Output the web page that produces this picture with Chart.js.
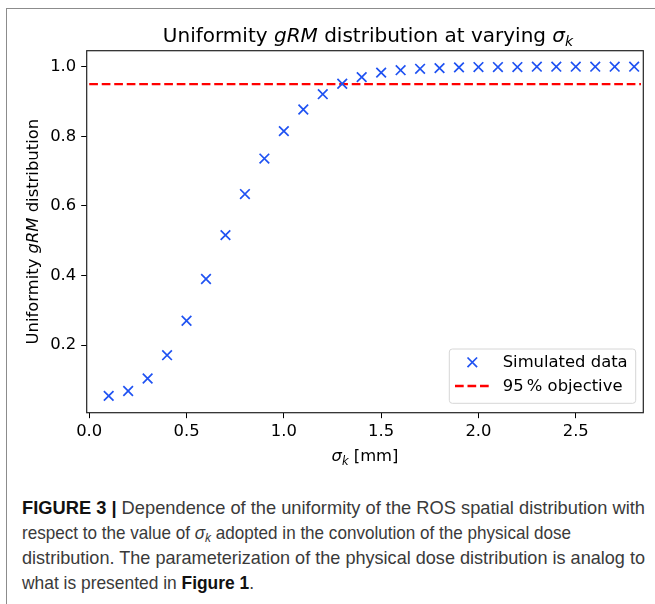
<!DOCTYPE html>
<html>
<head>
<meta charset="utf-8">
<script src="https://cdn.jsdelivr.net/npm/chart.js@4"></script>
<style>
  html, body { margin: 0; padding: 0; background: #fff; }
  body { width: 655px; height: 604px; position: relative; overflow: hidden; }
  #frame { position: absolute; left: 6px; top: 8px; width: 720px; height: 640px; border: 1.5px solid #8c8c8c; box-sizing: border-box; }
  #chartBox { position: absolute; left: 0; top: 0; width: 655px; height: 470px; }
  #caption { position: absolute; left: 22px; top: 495px; font-family: "Liberation Sans", "Roboto", sans-serif; font-size: 19px; line-height: 25px; color: #3a3a3a; }
  #caption div { white-space: nowrap; transform-origin: 0 0; height: 25px; width: max-content; }
  #caption b { color: #111; }
  #caption sub { font-size: 70%; line-height: 0; vertical-align: -0.25em; }
</style>
</head>
<body>
<div id="frame"></div>
<div id="chartBox"><canvas id="uniformityChart" width="655" height="470"></canvas></div>
<div id="caption">
  <div data-w="623"><b>FIGURE 3 |</b> Dependence of the uniformity of the ROS spatial distribution with</div>
  <div data-w="549">respect to the value of <i>&sigma;<sub>k</sub></i> adopted in the convolution of the physical dose</div>
  <div data-w="623">distribution. The parameterization of the physical dose distribution is analog to</div>
  <div data-w="232">what is presented in <b>Figure 1</b>.</div>
</div>
<script>
// sigma_k values [mm] and simulated uniformity
const sigmaK = [0.1, 0.2, 0.3, 0.4, 0.5, 0.6, 0.7, 0.8, 0.9, 1.0,
                1.1, 1.2, 1.3, 1.4, 1.5, 1.6, 1.7, 1.8, 1.9, 2.0,
                2.1, 2.2, 2.3, 2.4, 2.5, 2.6, 2.7, 2.8];
const uniformity = [0.054, 0.068, 0.104, 0.171, 0.270, 0.390, 0.516, 0.634, 0.736, 0.815,
                    0.877, 0.921, 0.951, 0.970, 0.983, 0.990, 0.994, 0.996, 0.998, 0.999,
                    0.999, 0.999, 1.000, 1.000, 1.000, 1.000, 1.000, 1.000];
const objectiveX = [0, 2.835];
const objectiveY = [0.95, 0.95];
const seriesLabels = ['Simulated data', '95\u2009% objective'];
const xTicks = [0.0, 0.5, 1.0, 1.5, 2.0, 2.5];
const yTicks = [0.2, 0.4, 0.6, 0.8, 1.0];

const blue = '#1f52f2';
const red = '#ff0000';
const fontFam = "'DejaVu Sans', sans-serif";
const fs = 16.4;

// squeeze caption lines to the widths of the original (condensed font)
document.querySelectorAll('#caption div').forEach(function(d) {
    var w = d.getBoundingClientRect().width;
    d.style.transform = 'scaleX(' + (parseFloat(d.dataset.w) / w) + ')';
});

// draw text pieces with italic / subscript parts
function drawRuns(ctx, runs, x, y, size) {
    var total = 0;
    runs.forEach(function(r) {
        var s = r.sub ? size * 0.7 : size;
        ctx.font = (r.it ? 'italic ' : '') + s + 'px ' + fontFam;
        r.w = ctx.measureText(r.t).width;
        total += r.w;
    });
    var cx = x - total / 2;
    ctx.textAlign = 'left';
    ctx.textBaseline = 'alphabetic';
    runs.forEach(function(r) {
        var s = r.sub ? size * 0.7 : size;
        ctx.font = (r.it ? 'italic ' : '') + s + 'px ' + fontFam;
        ctx.fillText(r.t, cx, y + (r.sub ? size * 0.22 : 0));
        cx += r.w;
    });
}

const extrasPlugin = {
    id: 'extras',
    afterDraw(chart) {
        var ctx = chart.ctx;
        var a = chart.chartArea;
        ctx.save();
        // spines
        ctx.strokeStyle = '#222';
        ctx.lineWidth = 1.2;
        ctx.strokeRect(a.left, a.top, a.right - a.left, a.bottom - a.top);
        ctx.fillStyle = '#000';
        // title
        drawRuns(ctx, [{t: 'Uniformity '}, {t: 'gRM', it: true}, {t: ' distribution at varying '},
                       {t: '\u03c3', it: true}, {t: 'k', it: true, sub: true}],
                 (a.left + a.right) / 2 + 3, 42, 20);
        // x axis title
        drawRuns(ctx, [{t: '\u03c3', it: true}, {t: 'k', it: true, sub: true}, {t: ' [mm]'}],
                 (a.left + a.right) / 2, 461, fs);
        // y axis title
        ctx.save();
        ctx.translate(38, (a.top + a.bottom) / 2);
        ctx.rotate(-Math.PI / 2);
        drawRuns(ctx, [{t: 'Uniformity '}, {t: 'gRM', it: true}, {t: ' distribution'}], 0, 0, fs);
        ctx.restore();

        // legend
        var lx = 449.3, ly = 349, lw = 186.4, lh = 54.3;
        ctx.beginPath();
        ctx.roundRect(lx, ly, lw, lh, 3);
        ctx.fillStyle = 'rgba(255,255,255,0.8)';
        ctx.fill();
        ctx.strokeStyle = '#d6d6d6';
        ctx.lineWidth = 1;
        ctx.stroke();
        var ds = chart.data.datasets;
        // marker entry
        ctx.strokeStyle = ds[0].borderColor;
        ctx.lineWidth = ds[0].pointBorderWidth;
        ctx.beginPath();
        ctx.moveTo(472.3 - 4.8, 362.3 - 4.8); ctx.lineTo(472.3 + 4.8, 362.3 + 4.8);
        ctx.moveTo(472.3 + 4.8, 362.3 - 4.8); ctx.lineTo(472.3 - 4.8, 362.3 + 4.8);
        ctx.stroke();
        // dashed entry
        ctx.strokeStyle = ds[1].borderColor;
        ctx.lineWidth = ds[1].borderWidth;
        ctx.setLineDash(ds[1].borderDash);
        ctx.beginPath();
        ctx.moveTo(455, 386); ctx.lineTo(489.5, 386);
        ctx.stroke();
        ctx.setLineDash([]);
        ctx.fillStyle = '#000';
        ctx.font = fs + 'px ' + fontFam;
        ctx.textAlign = 'left';
        ctx.textBaseline = 'middle';
        ctx.fillText(ds[0].label, 502.7, 363);
        ctx.fillText(ds[1].label, 502.7, 387);
        ctx.restore();
    }
};

var ctx = document.getElementById('uniformityChart').getContext('2d');
var uniformityChart = new Chart(ctx, {
    type: 'scatter',
    data: {
        datasets: [{
            label: seriesLabels[0],
            data: sigmaK.map((x, i) => ({x: x, y: uniformity[i]})),
            pointStyle: 'crossRot',
            pointRadius: 6.8,
            pointBorderWidth: 1.7,
            borderColor: blue,
            backgroundColor: blue,
            showLine: false,
            order: 1
        }, {
            type: 'line',
            label: seriesLabels[1],
            data: objectiveX.map((x, i) => ({x: x, y: objectiveY[i]})),
            borderColor: red,
            backgroundColor: red,
            borderWidth: 2.3,
            borderDash: [8.7, 3.8],
            pointRadius: 0,
            fill: false,
            order: 2
        }]
    },
    options: {
        responsive: false,
        animation: false,
        layout: { padding: { left: 0, top: 50.7, right: 11.7, bottom: 0 } },
        plugins: {
            legend: { display: false },
            tooltip: { enabled: false },
            title: { display: false }
        },
        scales: {
            x: {
                type: 'linear',
                min: -0.013,
                max: 2.847,
                afterBuildTicks: s => { s.ticks = xTicks.map(v => ({value: v})); },
                afterFit: s => { s.height = 57.3; },
                ticks: {
                    color: '#000',
                    font: { family: fontFam, size: fs },
                    padding: 3.5,
                    maxRotation: 0,
                    callback: v => v.toFixed(1)
                },
                grid: { drawOnChartArea: false, drawTicks: true, tickLength: 5.5, color: '#000', tickColor: '#000' },
                border: { display: false }
            },
            y: {
                type: 'linear',
                min: 0.0057,
                max: 1.046,
                afterBuildTicks: s => { s.ticks = yTicks.map(v => ({value: v})); },
                afterFit: s => { s.width = 86.7; },
                ticks: {
                    color: '#000',
                    font: { family: fontFam, size: fs },
                    padding: 5,
                    callback: v => v.toFixed(1)
                },
                grid: { drawOnChartArea: false, drawTicks: true, tickLength: 5.5, color: '#000', tickColor: '#000' },
                border: { display: false }
            }
        }
    },
    plugins: [extrasPlugin]
});
</script>
</body>
</html>
